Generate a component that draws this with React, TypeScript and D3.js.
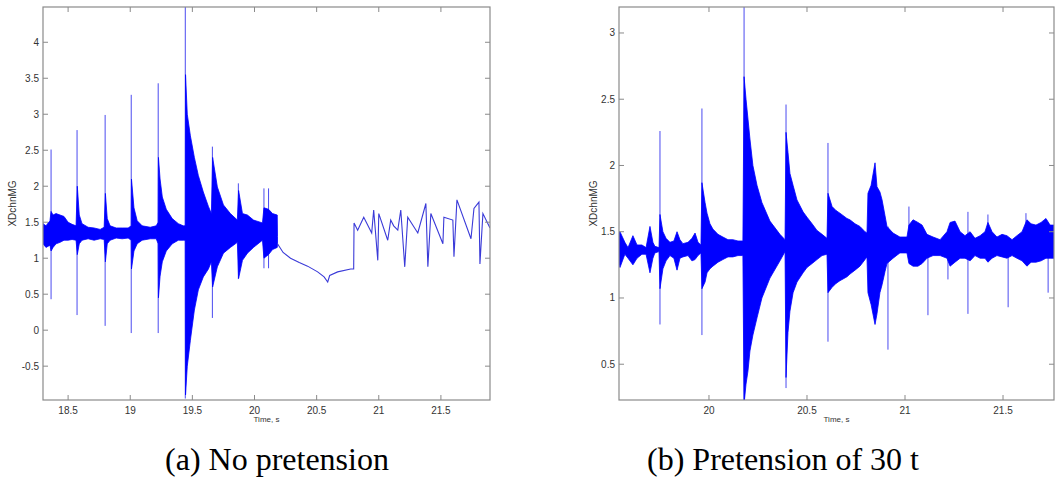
import React from "react";
import * as d3 from "d3";

// ---------- Panel (a): No pretension ----------
const aXDomain = [18.298, 21.895];
const aYDomain = [-0.97, 4.49];
const aXTicks = [18.5, 19, 19.5, 20, 20.5, 21, 21.5];
const aYTicks = [-0.5, 0, 0.5, 1, 1.5, 2, 2.5, 3, 3.5, 4];

const aBandT = [18.298, 18.322, 18.354, 18.363, 18.379, 18.403, 18.435, 18.467, 18.5, 18.532, 18.564, 18.574, 18.59, 18.612, 18.661, 18.709, 18.758, 18.79, 18.8, 18.815, 18.838, 18.887, 18.935, 18.983, 19.008, 19.01, 19.03, 19.056, 19.096, 19.161, 19.209, 19.225, 19.227, 19.24, 19.258, 19.29, 19.338, 19.387, 19.427, 19.443, 19.445, 19.459, 19.484, 19.516, 19.548, 19.588, 19.629, 19.653, 19.663, 19.701, 19.75, 19.806, 19.862, 19.872, 19.903, 19.943, 19.992, 20.064, 20.076, 20.113, 20.145, 20.183, 20.185];
const aBandHi = [1.48, 1.45, 1.52, 1.65, 1.6, 1.62, 1.6, 1.58, 1.5, 1.47, 1.45, 2.0, 1.6, 1.48, 1.43, 1.42, 1.4, 1.43, 1.9, 1.55, 1.45, 1.42, 1.42, 1.42, 1.45, 2.1, 1.7, 1.52, 1.45, 1.43, 1.45, 1.5, 2.4, 2.1, 1.85, 1.68, 1.55, 1.48, 1.45, 1.45, 3.55, 3.0, 2.7, 2.4, 2.15, 1.92, 1.72, 1.62, 2.4, 1.99, 1.74, 1.62, 1.53, 1.94, 1.62, 1.6, 1.53, 1.49, 1.7, 1.68, 1.62, 1.6, 1.3];
const aBandLo = [1.2, 1.15, 1.18, 1.1, 1.15, 1.2, 1.22, 1.25, 1.25, 1.26, 1.25, 1.05, 1.2, 1.25, 1.27, 1.25, 1.27, 1.26, 0.95, 1.2, 1.25, 1.28, 1.27, 1.28, 1.25, 0.85, 1.1, 1.2, 1.25, 1.27, 1.27, 1.2, 0.45, 0.75, 0.95, 1.1, 1.2, 1.25, 1.25, 1.25, -0.9, -0.5, -0.14, 0.28, 0.56, 0.74, 0.85, 0.95, 0.6, 0.88, 1.07, 1.15, 1.22, 0.72, 0.97, 1.07, 1.15, 1.25, 1.0, 1.05, 1.12, 1.15, 1.2];

const aSpikeT = [18.363, 18.572, 18.798, 19.008, 19.225, 19.443, 19.661, 19.87, 20.076, 20.113];
const aSpikeHi = [2.51, 2.78, 2.99, 3.27, 3.43, 4.6, 2.55, 2.04, 1.97, 1.97];
const aSpikeLo = [0.43, 0.21, 0.06, -0.04, -0.04, -0.95, 0.17, 0.71, 0.86, 0.86];

const aTailT = [20.185, 20.23, 20.29, 20.36, 20.427, 20.508, 20.56, 20.589, 20.605, 20.669, 20.774, 20.798, 20.801, 20.83, 20.879, 20.943, 20.959, 20.992, 21.0, 21.072, 21.096, 21.12, 21.153, 21.177, 21.209, 21.233, 21.314, 21.379, 21.395, 21.419, 21.516, 21.524, 21.596, 21.605, 21.629, 21.742, 21.766, 21.806, 21.814, 21.838, 21.895];
const aTailV = [1.2, 1.08, 1.0, 0.94, 0.89, 0.81, 0.74, 0.67, 0.76, 0.81, 0.85, 0.85, 1.49, 1.39, 1.57, 1.35, 1.67, 0.97, 1.62, 1.25, 1.53, 1.45, 1.39, 1.67, 0.88, 1.57, 1.35, 1.76, 0.88, 1.62, 1.2, 1.57, 1.53, 1.02, 1.81, 1.27, 1.69, 1.78, 0.92, 1.62, 1.42];

// ---------- Panel (b): Pretension of 30 t ----------
const bXDomain = [19.541, 21.76];
const bYDomain = [0.23, 3.196];
const bXTicks = [20, 20.5, 21, 21.5];
const bYTicks = [0.5, 1, 1.5, 2, 2.5, 3];

const bBandT = [19.541, 19.546, 19.571, 19.587, 19.612, 19.633, 19.658, 19.679, 19.699, 19.714, 19.724, 19.745, 19.75, 19.765, 19.781, 19.801, 19.821, 19.837, 19.852, 19.867, 19.893, 19.913, 19.929, 19.944, 19.959, 19.964, 19.98, 19.99, 20.005, 20.02, 20.046, 20.071, 20.097, 20.122, 20.148, 20.173, 20.179, 20.189, 20.199, 20.209, 20.224, 20.245, 20.27, 20.311, 20.362, 20.388, 20.393, 20.403, 20.413, 20.429, 20.449, 20.48, 20.5, 20.526, 20.551, 20.577, 20.602, 20.607, 20.628, 20.648, 20.668, 20.704, 20.719, 20.745, 20.77, 20.796, 20.806, 20.811, 20.827, 20.847, 20.857, 20.872, 20.883, 20.898, 20.908, 20.939, 20.974, 21.01, 21.02, 21.041, 21.066, 21.087, 21.112, 21.143, 21.179, 21.214, 21.23, 21.255, 21.281, 21.306, 21.332, 21.357, 21.383, 21.408, 21.423, 21.444, 21.469, 21.495, 21.52, 21.546, 21.571, 21.597, 21.622, 21.643, 21.668, 21.694, 21.719, 21.74, 21.76];
const bBandHi = [1.5, 1.5, 1.42, 1.38, 1.47, 1.4, 1.4, 1.38, 1.54, 1.42, 1.39, 1.38, 1.63, 1.5, 1.45, 1.42, 1.43, 1.5, 1.44, 1.41, 1.42, 1.45, 1.49, 1.42, 1.4, 1.87, 1.72, 1.64, 1.56, 1.52, 1.48, 1.46, 1.44, 1.44, 1.43, 1.43, 2.67, 2.5, 2.35, 2.2, 2.0, 1.85, 1.72, 1.58, 1.48, 1.44, 2.25, 2.1, 1.94, 1.85, 1.74, 1.65, 1.61, 1.56, 1.51, 1.48, 1.45, 1.79, 1.69, 1.66, 1.64, 1.6, 1.59, 1.56, 1.54, 1.5, 1.49, 1.79, 1.85, 2.02, 1.84, 1.8, 1.74, 1.62, 1.54, 1.49, 1.46, 1.46, 1.55, 1.59, 1.57, 1.55, 1.48, 1.46, 1.44, 1.5, 1.57, 1.58, 1.5, 1.47, 1.5, 1.45, 1.47, 1.5, 1.57, 1.5, 1.46, 1.48, 1.47, 1.44, 1.47, 1.5, 1.59, 1.56, 1.55, 1.57, 1.6, 1.55, 1.55];
const bBandLo = [1.25, 1.23, 1.33, 1.3, 1.25, 1.3, 1.33, 1.33, 1.19, 1.3, 1.34, 1.35, 1.07, 1.22, 1.28, 1.32, 1.3, 1.21, 1.3, 1.31, 1.32, 1.28, 1.29, 1.32, 1.34, 1.07, 1.12, 1.19, 1.22, 1.24, 1.27, 1.29, 1.31, 1.31, 1.32, 1.32, 0.2, 0.35, 0.45, 0.6, 0.72, 0.85, 1.0, 1.15, 1.28, 1.35, 0.4, 0.74, 0.9, 1.04, 1.12, 1.19, 1.23, 1.26, 1.29, 1.32, 1.33, 1.04, 1.08, 1.11, 1.13, 1.16, 1.18, 1.21, 1.24, 1.29, 1.31, 1.04, 0.95, 0.8, 0.88, 1.04, 1.1, 1.2, 1.26, 1.3, 1.34, 1.34, 1.26, 1.24, 1.24, 1.26, 1.3, 1.32, 1.32, 1.3, 1.24, 1.27, 1.3, 1.3, 1.28, 1.32, 1.3, 1.3, 1.27, 1.3, 1.32, 1.31, 1.3, 1.32, 1.3, 1.28, 1.24, 1.27, 1.27, 1.28, 1.3, 1.3, 1.3];

const bSpikeT = [19.75, 19.964, 20.179, 20.393, 20.607, 20.913, 21.02, 21.117, 21.219, 21.321, 21.423, 21.526, 21.617, 21.73];
const bSpikeHi = [2.26, 2.43, 3.3, 2.46, 2.17, 1.54, 1.69, 1.45, 1.45, 1.65, 1.63, 1.45, 1.64, 1.45];
const bSpikeLo = [0.8, 0.72, 0.1, 0.32, 0.67, 0.61, 1.3, 0.87, 1.14, 0.88, 1.35, 0.93, 1.3, 1.04];

const yLabel = "XDchnMG";
const xLabel = "Time, s";
const captionA = "(a) No pretension";
const captionB = "(b) Pretension of 30 t";

const BLUE = "#0000ff";
const AXIS = "#8a8a8a";
const TEXT = "#333333";
const SANS = "'Liberation Sans', Arial, sans-serif";
const SERIF = "'Liberation Serif', 'Times New Roman', serif";

type PanelProps = {
  id: string;
  left: number; right: number; top: number; bottom: number;
  yLabelX: number;
  xDomain: number[]; yDomain: number[];
  xTicks: number[]; yTicks: number[];
  bandT: number[]; bandHi: number[]; bandLo: number[];
  spikeT: number[]; spikeHi: number[]; spikeLo: number[];
  tailT?: number[]; tailV?: number[];
};

function Panel(p: PanelProps) {
  const x = d3.scaleLinear().domain(p.xDomain).range([p.left, p.right]);
  const y = d3.scaleLinear().domain(p.yDomain).range([p.bottom, p.top]);
  const band = p.bandT.map((t, i) => ({ t, hi: p.bandHi[i], lo: p.bandLo[i] }));
  const area = d3.area<any>().x((d) => x(d.t)).y0((d) => y(d.lo)).y1((d) => y(d.hi));
  const tail = p.tailT ? p.tailT.map((t, i) => ({ t, v: p.tailV![i] })) : [];
  const line = d3.line<any>().x((d) => x(d.t)).y((d) => y(d.v));
  const tick = 5;
  const clipId = `clip-${p.id}`;
  return (
    <g>
      <defs>
        <clipPath id={clipId}>
          <rect x={p.left} y={p.top} width={p.right - p.left} height={p.bottom - p.top} />
        </clipPath>
      </defs>
      <g clipPath={`url(#${clipId})`}>
        {p.spikeT.map((t, i) => (
          <line key={i} x1={x(t)} x2={x(t)} y1={y(p.spikeHi[i])} y2={y(p.spikeLo[i])}
            stroke="#4b4bf0" strokeWidth={1} />
        ))}
        <path d={area(band) || ""} fill={BLUE} stroke={BLUE} strokeWidth={0.8} strokeLinejoin="round" />
        {tail.length > 0 && (
          <path d={line(tail) || ""} fill="none" stroke="#3a3ad8" strokeWidth={1.1} />
        )}
      </g>
      <rect x={p.left} y={p.top} width={p.right - p.left} height={p.bottom - p.top}
        fill="none" stroke={AXIS} strokeWidth={1.2} />
      {p.xTicks.map((t) => (
        <g key={`xt${t}`}>
          <line x1={x(t)} x2={x(t)} y1={p.bottom} y2={p.bottom - tick} stroke={AXIS} />
          <line x1={x(t)} x2={x(t)} y1={p.top} y2={p.top + tick} stroke={AXIS} />
          <text x={x(t)} y={p.bottom + 14} textAnchor="middle" fontFamily={SANS} fontSize={10} fill={TEXT}>{t}</text>
        </g>
      ))}
      {p.yTicks.map((v) => (
        <g key={`yt${v}`}>
          <line x1={p.left} x2={p.left + tick} y1={y(v)} y2={y(v)} stroke={AXIS} />
          <line x1={p.right} x2={p.right - tick} y1={y(v)} y2={y(v)} stroke={AXIS} />
          <text x={p.left - 4} y={y(v) + 3.5} textAnchor="end" fontFamily={SANS} fontSize={10} fill={TEXT}>{v}</text>
        </g>
      ))}
      <text x={(p.left + p.right) / 2} y={p.bottom + 22} textAnchor="middle" fontFamily={SANS} fontSize={8} fill={TEXT}>{xLabel}</text>
      <text transform={`translate(${p.yLabelX},${(p.top + p.bottom) / 2}) rotate(-90)`} textAnchor="middle"
        fontFamily={SANS} fontSize={10} fill={TEXT}>{yLabel}</text>
    </g>
  );
}

export default function App() {
  return (
    <svg width={1056} height={489} style={{ position: "absolute", left: 0, top: 0, background: "#fff" }}>
      <rect width={1056} height={489} fill="#fff" />
      <Panel id="a" left={43} right={490} top={7} bottom={400} yLabelX={16}
        xDomain={aXDomain} yDomain={aYDomain} xTicks={aXTicks} yTicks={aYTicks}
        bandT={aBandT} bandHi={aBandHi} bandLo={aBandLo}
        spikeT={aSpikeT} spikeHi={aSpikeHi} spikeLo={aSpikeLo}
        tailT={aTailT} tailV={aTailV} />
      <Panel id="b" left={619} right={1054} top={7} bottom={400} yLabelX={597}
        xDomain={bXDomain} yDomain={bYDomain} xTicks={bXTicks} yTicks={bYTicks}
        bandT={bBandT} bandHi={bBandHi} bandLo={bBandLo}
        spikeT={bSpikeT} spikeHi={bSpikeHi} spikeLo={bSpikeLo} />
      <text x={277} y={470} textAnchor="middle" fontFamily={SERIF} fontSize={32} fill="#000">{captionA}</text>
      <text x={783} y={470} textAnchor="middle" fontFamily={SERIF} fontSize={32} fill="#000">{captionB}</text>
    </svg>
  );
}
